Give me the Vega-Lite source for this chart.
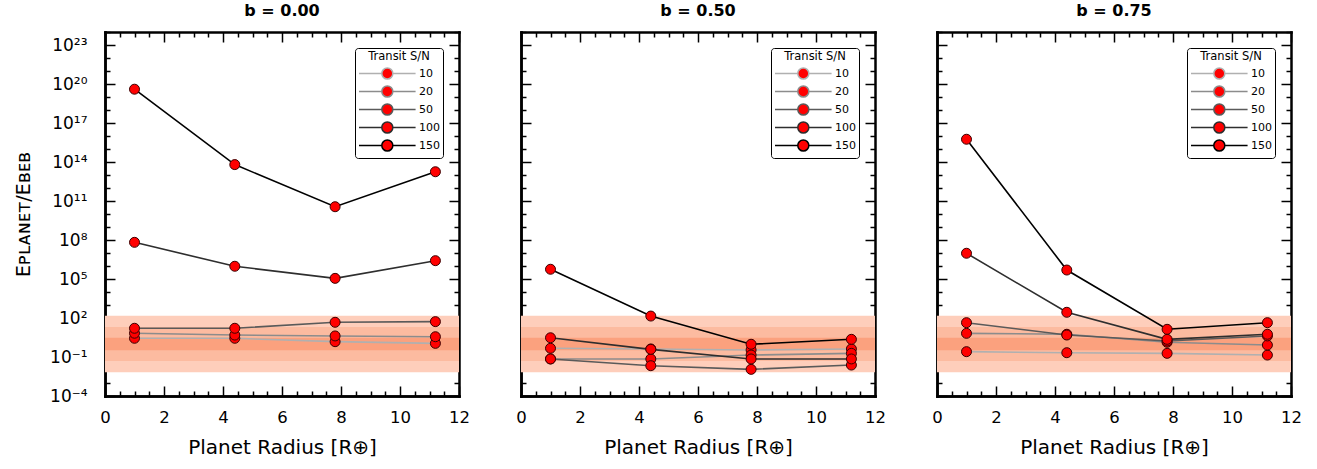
{
  "$schema": "https://vega.github.io/schema/vega-lite/v6.json",
  "padding": {"left": 14, "top": 3, "right": 5, "bottom": 5},
  "config": {
    "font": "DejaVu Sans",
    "view": {"stroke": null},
    "axis": {"grid": false, "zindex": 1, "domainColor": "black", "domainWidth": 2.5, "domainCap": "square", "tickColor": "black", "tickWidth": 1.5, "labelColor": "black", "titleColor": "black", "titleFontWeight": "normal", "labelFlush": false, "labelOverlap": false, "labelBound": false},
    "legend": {"orient": "top-right", "offset": 16, "symbolType": "M-1,0L2.8,0M4.64,0L8.43,0M2.8,0A0.92,0.92,0,1,1,4.64,0A0.92,0.92,0,1,1,2.8,0Z", "symbolSize": 144, "symbolStrokeWidth": 1.5, "labelOffset": 47, "labelFontSize": 11, "labelColor": "black", "titleFontSize": 11.5, "titleFontWeight": "normal", "titleColor": "black", "titleAnchor": "middle", "titlePadding": 4, "rowPadding": 0, "padding": 3, "strokeColor": "black", "fillColor": "white", "cornerRadius": 3}
  },
  "datasets": {
    "bands": [
      {"k": "150", "lo": 0.0066667, "hi": 150},
      {"k": "20", "lo": 0.05, "hi": 20},
      {"k": "3", "lo": 0.33333, "hi": 3}
    ],
    "pts": [
      {"panel": "b = 0.00", "sn": "10", "r": 1.0, "v": 2.75},
      {"panel": "b = 0.00", "sn": "10", "r": 4.4, "v": 2.75},
      {"panel": "b = 0.00", "sn": "10", "r": 7.8, "v": 1.51},
      {"panel": "b = 0.00", "sn": "10", "r": 11.2, "v": 1.12},
      {"panel": "b = 0.00", "sn": "20", "r": 1.0, "v": 6.76},
      {"panel": "b = 0.00", "sn": "20", "r": 4.4, "v": 4.9},
      {"panel": "b = 0.00", "sn": "20", "r": 7.8, "v": 4.17},
      {"panel": "b = 0.00", "sn": "20", "r": 11.2, "v": 3.63},
      {"panel": "b = 0.00", "sn": "50", "r": 1.0, "v": 16.2},
      {"panel": "b = 0.00", "sn": "50", "r": 4.4, "v": 16.2},
      {"panel": "b = 0.00", "sn": "50", "r": 7.8, "v": 46.8},
      {"panel": "b = 0.00", "sn": "50", "r": 11.2, "v": 52.5},
      {"panel": "b = 0.00", "sn": "100", "r": 1.0, "v": 6.61e7},
      {"panel": "b = 0.00", "sn": "100", "r": 4.4, "v": 9.55e5},
      {"panel": "b = 0.00", "sn": "100", "r": 7.8, "v": 1.12e5},
      {"panel": "b = 0.00", "sn": "100", "r": 11.2, "v": 2.57e6},
      {"panel": "b = 0.00", "sn": "150", "r": 1.0, "v": 3.98e19},
      {"panel": "b = 0.00", "sn": "150", "r": 4.4, "v": 6.31e13},
      {"panel": "b = 0.00", "sn": "150", "r": 7.8, "v": 3.63e10},
      {"panel": "b = 0.00", "sn": "150", "r": 11.2, "v": 1.78e13},
      {"panel": "b = 0.50", "sn": "10", "r": 1.0, "v": 0.468},
      {"panel": "b = 0.50", "sn": "10", "r": 4.4, "v": 0.417},
      {"panel": "b = 0.50", "sn": "10", "r": 7.8, "v": 0.347},
      {"panel": "b = 0.50", "sn": "10", "r": 11.2, "v": 0.417},
      {"panel": "b = 0.50", "sn": "20", "r": 1.0, "v": 0.0708},
      {"panel": "b = 0.50", "sn": "20", "r": 4.4, "v": 0.0708},
      {"panel": "b = 0.50", "sn": "20", "r": 7.8, "v": 0.141},
      {"panel": "b = 0.50", "sn": "20", "r": 11.2, "v": 0.191},
      {"panel": "b = 0.50", "sn": "50", "r": 1.0, "v": 0.0708},
      {"panel": "b = 0.50", "sn": "50", "r": 4.4, "v": 0.0214},
      {"panel": "b = 0.50", "sn": "50", "r": 7.8, "v": 0.0112},
      {"panel": "b = 0.50", "sn": "50", "r": 11.2, "v": 0.024},
      {"panel": "b = 0.50", "sn": "100", "r": 1.0, "v": 3.02},
      {"panel": "b = 0.50", "sn": "100", "r": 4.4, "v": 0.389},
      {"panel": "b = 0.50", "sn": "100", "r": 7.8, "v": 0.0708},
      {"panel": "b = 0.50", "sn": "100", "r": 11.2, "v": 0.0708},
      {"panel": "b = 0.50", "sn": "150", "r": 1.0, "v": 5.62e5},
      {"panel": "b = 0.50", "sn": "150", "r": 4.4, "v": 141},
      {"panel": "b = 0.50", "sn": "150", "r": 7.8, "v": 0.955},
      {"panel": "b = 0.50", "sn": "150", "r": 11.2, "v": 2.29},
      {"panel": "b = 0.75", "sn": "10", "r": 1.0, "v": 0.257},
      {"panel": "b = 0.75", "sn": "10", "r": 4.4, "v": 0.214},
      {"panel": "b = 0.75", "sn": "10", "r": 7.8, "v": 0.191},
      {"panel": "b = 0.75", "sn": "10", "r": 11.2, "v": 0.141},
      {"panel": "b = 0.75", "sn": "20", "r": 1.0, "v": 6.61},
      {"panel": "b = 0.75", "sn": "20", "r": 4.4, "v": 5.62},
      {"panel": "b = 0.75", "sn": "20", "r": 7.8, "v": 1.35},
      {"panel": "b = 0.75", "sn": "20", "r": 11.2, "v": 0.832},
      {"panel": "b = 0.75", "sn": "50", "r": 1.0, "v": 43.7},
      {"panel": "b = 0.75", "sn": "50", "r": 4.4, "v": 4.9},
      {"panel": "b = 0.75", "sn": "50", "r": 7.8, "v": 1.7},
      {"panel": "b = 0.75", "sn": "50", "r": 11.2, "v": 4.17},
      {"panel": "b = 0.75", "sn": "100", "r": 1.0, "v": 9.55e6},
      {"panel": "b = 0.75", "sn": "100", "r": 4.4, "v": 275},
      {"panel": "b = 0.75", "sn": "100", "r": 7.8, "v": 2.29},
      {"panel": "b = 0.75", "sn": "100", "r": 11.2, "v": 5.62},
      {"panel": "b = 0.75", "sn": "150", "r": 1.0, "v": 5.62e15},
      {"panel": "b = 0.75", "sn": "150", "r": 4.4, "v": 4.9e5},
      {"panel": "b = 0.75", "sn": "150", "r": 7.8, "v": 13.5},
      {"panel": "b = 0.75", "sn": "150", "r": 11.2, "v": 43.7}
    ]
  },
  "spacing": 45,
  "resolve": {"scale": {"stroke": "independent"}, "legend": {"stroke": "independent"}},
  "hconcat": [
    {
      "title": {"text": "b = 0.00", "fontSize": 16, "fontWeight": "bold", "offset": 12, "frame": "group"},
      "width": 354, "height": 364,
      "resolve": {"axis": {"x": "independent", "y": "independent"}},
      "layer": [
        {
          "data": {"name": "bands"},
          "mark": {"type": "rect"},
          "encoding": {
            "x": {"datum": 0, "type": "quantitative", "scale": {"domain": [0, 12], "nice": false, "zero": false},
              "axis": {"orient": "bottom", "values": [0,2,4,6,8,10,12], "format": "d", "ticks": false, "labelFontSize": 16.5, "labelPadding": 13, "title": "Planet Radius [R⊕]", "titleFontSize": 20, "titlePadding": 12}},
            "x2": {"datum": 12},
            "y": {"field": "lo", "type": "quantitative", "scale": {"type": "log", "domain": [0.0001, 1e24], "nice": false},
              "axis": {"orient": "left", "values": [0.0001,0.1,100,100000,1e8,1e11,1e14,1e17,1e20,1e23], "labelExpr": "['10⁻⁴','10⁻¹','10²','10⁵','10⁸','10¹¹','10¹⁴','10¹⁷','10²⁰','10²³'][round((log(datum.value)/LN10+4)/3)]", "ticks": false, "labelFontSize": 17, "labelPadding": 18, "title": "Eᴘʟᴀɴᴇᴛ/Eʙᴇʙ", "titleFontSize": 19, "titlePadding": 16}},
            "y2": {"field": "hi"},
            "color": {"field": "k", "type": "nominal", "scale": {"domain": ["150", "20", "3"], "range": ["#fecebb", "#fcbba0", "#fba17e"]}, "legend": null}
          }
        },
        {
          "data": {"name": "pts"},
          "transform": [{"filter": "datum.panel == 'b = 0.00'"}],
          "mark": {"type": "line", "strokeWidth": 1.6},
          "encoding": {
            "x": {"field": "r", "type": "quantitative", "scale": {"domain": [0, 12], "nice": false, "zero": false},
              "axis": {"orient": "top", "offset": -364, "values": [0,0.5,1,1.5,2,2.5,3,3.5,4,4.5,5,5.5,6,6.5,7,7.5,8,8.5,9,9.5,10,10.5,11,11.5,12], "labels": false, "title": null, "tickSize": {"condition": {"test": "datum.value % 2 == 0", "value": 10}, "value": 5}}},
            "y": {"field": "v", "type": "quantitative", "scale": {"type": "log", "domain": [0.0001, 1e24], "nice": false},
              "axis": {"orient": "right", "offset": -354, "values": [0.0001,0.001,0.01,0.1,1,10,100,1000,10000,100000,1000000,1e7,1e8,1e9,1e10,1e11,1e12,1e13,1e14,1e15,1e16,1e17,1e18,1e19,1e20,1e21,1e22,1e23,1e24], "labels": false, "title": null, "tickSize": {"condition": {"test": "(round(log(datum.value)/LN10)+4) % 3 == 0", "value": 10}, "value": 5}}},
            "stroke": {"field": "sn", "type": "nominal", "scale": {"domain": ["10", "20", "50", "100", "150"], "range": ["#b0b0b0", "#8c8c8c", "#5a5a5a", "#2e2e2e", "#000000"]},
              "legend": {"title": "Transit S/N", "encode": {"symbols": {"update": {"fill": {"value": "#ff0000"}, "fillOpacity": {"value": 1}}}}}}
          }
        },
        {
          "data": {"name": "pts"},
          "transform": [{"filter": "datum.panel == 'b = 0.00'"}],
          "mark": {"type": "point", "shape": "circle", "filled": true, "fill": "#ff0000", "stroke": "#3a0000", "strokeWidth": 1, "size": 100, "opacity": 1},
          "encoding": {
            "x": {"field": "r", "type": "quantitative", "scale": {"domain": [0, 12], "nice": false, "zero": false},
              "axis": {"orient": "bottom", "offset": -364, "values": [0,0.5,1,1.5,2,2.5,3,3.5,4,4.5,5,5.5,6,6.5,7,7.5,8,8.5,9,9.5,10,10.5,11,11.5,12], "labels": false, "title": null, "tickSize": {"condition": {"test": "datum.value % 2 == 0", "value": 10}, "value": 5}}},
            "y": {"field": "v", "type": "quantitative", "scale": {"type": "log", "domain": [0.0001, 1e24], "nice": false},
              "axis": {"orient": "left", "offset": -354, "values": [0.0001,0.001,0.01,0.1,1,10,100,1000,10000,100000,1000000,1e7,1e8,1e9,1e10,1e11,1e12,1e13,1e14,1e15,1e16,1e17,1e18,1e19,1e20,1e21,1e22,1e23,1e24], "labels": false, "title": null, "tickSize": {"condition": {"test": "(round(log(datum.value)/LN10)+4) % 3 == 0", "value": 10}, "value": 5}}},
            "detail": {"field": "sn"}
          }
        }
      ]
    },
    {
      "title": {"text": "b = 0.50", "fontSize": 16, "fontWeight": "bold", "offset": 12, "frame": "group"},
      "width": 354, "height": 364,
      "resolve": {"axis": {"x": "independent", "y": "independent"}},
      "layer": [
        {
          "data": {"name": "bands"},
          "mark": {"type": "rect"},
          "encoding": {
            "x": {"datum": 0, "type": "quantitative", "scale": {"domain": [0, 12], "nice": false, "zero": false},
              "axis": {"orient": "bottom", "values": [0,2,4,6,8,10,12], "format": "d", "ticks": false, "labelFontSize": 16.5, "labelPadding": 13, "title": "Planet Radius [R⊕]", "titleFontSize": 20, "titlePadding": 12}},
            "x2": {"datum": 12},
            "y": {"field": "lo", "type": "quantitative", "scale": {"type": "log", "domain": [0.0001, 1e24], "nice": false},
              "axis": {"orient": "left", "values": [0.0001,1e24], "ticks": false, "labels": false, "title": null}},
            "y2": {"field": "hi"},
            "color": {"field": "k", "type": "nominal", "scale": {"domain": ["150", "20", "3"], "range": ["#fecebb", "#fcbba0", "#fba17e"]}, "legend": null}
          }
        },
        {
          "data": {"name": "pts"},
          "transform": [{"filter": "datum.panel == 'b = 0.50'"}],
          "mark": {"type": "line", "strokeWidth": 1.6},
          "encoding": {
            "x": {"field": "r", "type": "quantitative", "scale": {"domain": [0, 12], "nice": false, "zero": false},
              "axis": {"orient": "top", "offset": -364, "values": [0,0.5,1,1.5,2,2.5,3,3.5,4,4.5,5,5.5,6,6.5,7,7.5,8,8.5,9,9.5,10,10.5,11,11.5,12], "labels": false, "title": null, "tickSize": {"condition": {"test": "datum.value % 2 == 0", "value": 10}, "value": 5}}},
            "y": {"field": "v", "type": "quantitative", "scale": {"type": "log", "domain": [0.0001, 1e24], "nice": false},
              "axis": {"orient": "right", "offset": -354, "values": [0.0001,0.001,0.01,0.1,1,10,100,1000,10000,100000,1000000,1e7,1e8,1e9,1e10,1e11,1e12,1e13,1e14,1e15,1e16,1e17,1e18,1e19,1e20,1e21,1e22,1e23,1e24], "labels": false, "title": null, "tickSize": {"condition": {"test": "(round(log(datum.value)/LN10)+4) % 3 == 0", "value": 10}, "value": 5}}},
            "stroke": {"field": "sn", "type": "nominal", "scale": {"domain": ["10", "20", "50", "100", "150"], "range": ["#b0b0b0", "#8c8c8c", "#5a5a5a", "#2e2e2e", "#000000"]},
              "legend": {"title": "Transit S/N", "encode": {"symbols": {"update": {"fill": {"value": "#ff0000"}, "fillOpacity": {"value": 1}}}}}}
          }
        },
        {
          "data": {"name": "pts"},
          "transform": [{"filter": "datum.panel == 'b = 0.50'"}],
          "mark": {"type": "point", "shape": "circle", "filled": true, "fill": "#ff0000", "stroke": "#3a0000", "strokeWidth": 1, "size": 100, "opacity": 1},
          "encoding": {
            "x": {"field": "r", "type": "quantitative", "scale": {"domain": [0, 12], "nice": false, "zero": false},
              "axis": {"orient": "bottom", "offset": -364, "values": [0,0.5,1,1.5,2,2.5,3,3.5,4,4.5,5,5.5,6,6.5,7,7.5,8,8.5,9,9.5,10,10.5,11,11.5,12], "labels": false, "title": null, "tickSize": {"condition": {"test": "datum.value % 2 == 0", "value": 10}, "value": 5}}},
            "y": {"field": "v", "type": "quantitative", "scale": {"type": "log", "domain": [0.0001, 1e24], "nice": false},
              "axis": {"orient": "left", "offset": -354, "values": [0.0001,0.001,0.01,0.1,1,10,100,1000,10000,100000,1000000,1e7,1e8,1e9,1e10,1e11,1e12,1e13,1e14,1e15,1e16,1e17,1e18,1e19,1e20,1e21,1e22,1e23,1e24], "labels": false, "title": null, "tickSize": {"condition": {"test": "(round(log(datum.value)/LN10)+4) % 3 == 0", "value": 10}, "value": 5}}},
            "detail": {"field": "sn"}
          }
        }
      ]
    },
    {
      "title": {"text": "b = 0.75", "fontSize": 16, "fontWeight": "bold", "offset": 12, "frame": "group"},
      "width": 354, "height": 364,
      "resolve": {"axis": {"x": "independent", "y": "independent"}},
      "layer": [
        {
          "data": {"name": "bands"},
          "mark": {"type": "rect"},
          "encoding": {
            "x": {"datum": 0, "type": "quantitative", "scale": {"domain": [0, 12], "nice": false, "zero": false},
              "axis": {"orient": "bottom", "values": [0,2,4,6,8,10,12], "format": "d", "ticks": false, "labelFontSize": 16.5, "labelPadding": 13, "title": "Planet Radius [R⊕]", "titleFontSize": 20, "titlePadding": 12}},
            "x2": {"datum": 12},
            "y": {"field": "lo", "type": "quantitative", "scale": {"type": "log", "domain": [0.0001, 1e24], "nice": false},
              "axis": {"orient": "left", "values": [0.0001,1e24], "ticks": false, "labels": false, "title": null}},
            "y2": {"field": "hi"},
            "color": {"field": "k", "type": "nominal", "scale": {"domain": ["150", "20", "3"], "range": ["#fecebb", "#fcbba0", "#fba17e"]}, "legend": null}
          }
        },
        {
          "data": {"name": "pts"},
          "transform": [{"filter": "datum.panel == 'b = 0.75'"}],
          "mark": {"type": "line", "strokeWidth": 1.6},
          "encoding": {
            "x": {"field": "r", "type": "quantitative", "scale": {"domain": [0, 12], "nice": false, "zero": false},
              "axis": {"orient": "top", "offset": -364, "values": [0,0.5,1,1.5,2,2.5,3,3.5,4,4.5,5,5.5,6,6.5,7,7.5,8,8.5,9,9.5,10,10.5,11,11.5,12], "labels": false, "title": null, "tickSize": {"condition": {"test": "datum.value % 2 == 0", "value": 10}, "value": 5}}},
            "y": {"field": "v", "type": "quantitative", "scale": {"type": "log", "domain": [0.0001, 1e24], "nice": false},
              "axis": {"orient": "right", "offset": -354, "values": [0.0001,0.001,0.01,0.1,1,10,100,1000,10000,100000,1000000,1e7,1e8,1e9,1e10,1e11,1e12,1e13,1e14,1e15,1e16,1e17,1e18,1e19,1e20,1e21,1e22,1e23,1e24], "labels": false, "title": null, "tickSize": {"condition": {"test": "(round(log(datum.value)/LN10)+4) % 3 == 0", "value": 10}, "value": 5}}},
            "stroke": {"field": "sn", "type": "nominal", "scale": {"domain": ["10", "20", "50", "100", "150"], "range": ["#b0b0b0", "#8c8c8c", "#5a5a5a", "#2e2e2e", "#000000"]},
              "legend": {"title": "Transit S/N", "encode": {"symbols": {"update": {"fill": {"value": "#ff0000"}, "fillOpacity": {"value": 1}}}}}}
          }
        },
        {
          "data": {"name": "pts"},
          "transform": [{"filter": "datum.panel == 'b = 0.75'"}],
          "mark": {"type": "point", "shape": "circle", "filled": true, "fill": "#ff0000", "stroke": "#3a0000", "strokeWidth": 1, "size": 100, "opacity": 1},
          "encoding": {
            "x": {"field": "r", "type": "quantitative", "scale": {"domain": [0, 12], "nice": false, "zero": false},
              "axis": {"orient": "bottom", "offset": -364, "values": [0,0.5,1,1.5,2,2.5,3,3.5,4,4.5,5,5.5,6,6.5,7,7.5,8,8.5,9,9.5,10,10.5,11,11.5,12], "labels": false, "title": null, "tickSize": {"condition": {"test": "datum.value % 2 == 0", "value": 10}, "value": 5}}},
            "y": {"field": "v", "type": "quantitative", "scale": {"type": "log", "domain": [0.0001, 1e24], "nice": false},
              "axis": {"orient": "left", "offset": -354, "values": [0.0001,0.001,0.01,0.1,1,10,100,1000,10000,100000,1000000,1e7,1e8,1e9,1e10,1e11,1e12,1e13,1e14,1e15,1e16,1e17,1e18,1e19,1e20,1e21,1e22,1e23,1e24], "labels": false, "title": null, "tickSize": {"condition": {"test": "(round(log(datum.value)/LN10)+4) % 3 == 0", "value": 10}, "value": 5}}},
            "detail": {"field": "sn"}
          }
        }
      ]
    }
  ]
}
